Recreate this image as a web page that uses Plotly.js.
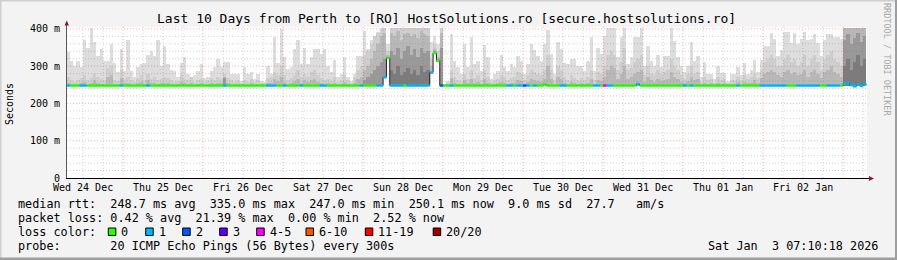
<!DOCTYPE html>
<html><head><meta charset="utf-8">
<script src="https://cdn.plot.ly/plotly-3.0.1.min.js"></script>
<style>html,body{margin:0;padding:0;background:#f3f3f3}#chart{width:897px;height:260px}</style>
</head><body><div id="chart"></div>
<script>
// ---- data: hourly bins starting 24 Dec 2025 07:00 ----
const rangeStart = '2025-12-24 07:10:18';
const rangeEnd = '2026-01-03 07:10:18';
const dayLabels = ['Wed 24 Dec','Thu 25 Dec','Fri 26 Dec','Sat 27 Dec','Sun 28 Dec','Mon 29 Dec','Tue 30 Dec','Wed 31 Dec','Thu 01 Jan','Fri 02 Jan'];
const yTickValues = [0,100,200,300,400];
const yTickLabels = ['0','100 m','200 m','300 m','400 m'];
const lossLabels = ['0','1','2','3','4-5','6-10','11-19','20/20'];
const lossColors = ['#26ff00','#00b8ff','#0059ff','#5e00ff','#ff00ff','#ff5500','#ff0000','#a10000'];

const smokeTop = [
337,315,301,315,297,369,349,403,364,328,346,315,315,360,308,284,346,288,369,288,272,297,306,308,331,340,328,369,301,355,306,290,288,270,308,324,279,270,277,288,306,268,270,288,299,319,299,310,
310,279,279,279,261,299,279,284,266,279,261,257,301,279,378,308,400,324,293,297,346,369,306,349,306,324,346,346,333,346,301,284,317,270,279,324,270,261,279,328,328,394,346,369,378,391,403,403,
360,403,403,403,403,403,403,403,403,403,403,403,403,364,380,360,403,253,261,385,315,297,279,360,297,378,306,315,288,358,324,266,279,288,331,297,288,306,297,328,315,279,306,360,342,328,315,360,
397,333,279,364,346,308,306,319,319,301,301,288,315,379,288,349,333,382,403,403,403,324,378,403,306,324,378,378,403,301,355,315,301,331,299,328,328,403,367,324,301,284,301,364,315,328,270,310,
279,279,266,301,281,281,261,279,279,297,277,308,279,290,317,284,317,353,353,388,373,328,342,391,391,361,388,360,373,391,369,373,387,361,328,369,387,387,379,378,373,403,403,403,403,403,403,403];
const smoke2 = [
270,262,258,262,268,275,262,268,280,270,265,262,295,300,262,260,290,265,270,262,258,268,275,262,280,265,270,262,265,270,268,262,258,260,275,265,262,270,258,262,265,258,262,268,262,270,265,278,
268,262,258,262,256,262,258,265,258,262,256,254,268,270,285,275,300,275,262,268,275,290,270,280,272,285,290,275,268,262,265,260,270,258,262,275,262,256,270,290,300,330,340,360,380,390,400,403,
340,403,403,403,403,403,403,403,403,403,403,403,403,320,360,340,403,252,256,290,270,262,258,280,265,290,268,275,262,290,270,258,262,265,275,270,262,268,270,285,278,262,275,290,285,280,275,290,
330,290,262,300,290,270,262,275,268,262,268,262,270,290,262,285,280,300,330,340,330,290,310,350,290,295,310,320,330,275,300,280,275,290,278,285,290,320,300,290,275,265,278,300,280,285,258,272,
262,265,256,270,262,265,256,262,262,272,262,275,265,270,280,268,290,310,320,330,320,300,300,320,330,310,320,300,310,330,300,320,330,310,290,320,330,340,320,310,300,403,403,403,403,403,403,403];
const smoke3 = [
255,252,250,252,256,258,252,255,262,256,253,252,270,275,252,250,268,254,256,252,250,255,258,252,262,254,256,252,254,256,255,252,250,252,258,254,252,256,250,252,254,250,252,255,252,256,254,272,
255,252,250,252,250,252,250,254,250,252,250,249,255,256,265,260,270,258,252,255,260,265,256,262,258,262,265,258,255,252,254,252,256,250,252,258,252,250,256,265,270,290,300,320,340,360,380,390,
330,390,380,395,370,385,390,380,385,375,395,385,380,300,345,325,390,250,251,268,256,252,250,262,254,265,255,258,252,265,256,250,252,254,258,256,252,255,256,262,260,252,258,265,262,260,258,265,
300,265,252,272,265,256,252,258,255,252,255,252,256,265,252,262,260,272,290,300,295,265,280,300,265,270,280,285,290,258,270,262,258,265,260,262,265,285,270,265,258,254,260,272,262,265,250,256,
252,254,250,256,252,254,250,252,252,258,252,258,254,256,262,256,268,280,285,290,285,275,272,285,290,280,285,275,280,290,272,285,290,280,268,285,290,300,285,280,272,403,403,403,403,403,403,403];
const smoke4 = [
246,246,246,246,246,246,246,246,246,246,246,246,246,246,246,246,246,246,246,246,246,246,246,246,246,246,246,246,246,246,246,246,246,246,246,246,246,246,246,246,246,246,246,246,246,246,246,268,
246,246,246,246,246,246,246,246,246,246,246,246,246,246,246,246,246,246,246,246,246,246,246,246,246,246,246,246,246,246,246,246,246,246,246,246,246,246,246,246,246,262,270,280,290,300,310,320,
325,340,330,350,320,340,355,330,345,325,350,335,340,285,340,318,350,246,246,246,246,246,246,246,246,246,246,246,246,246,246,246,246,246,246,246,246,246,246,246,246,246,246,246,246,246,246,246,
246,246,246,246,246,246,246,246,246,246,246,246,246,246,246,246,246,246,246,246,246,246,246,246,246,246,246,246,246,246,246,246,246,246,246,246,246,246,246,246,246,246,246,246,246,246,246,246,
246,246,246,246,246,246,246,246,246,246,246,246,246,246,246,246,246,246,246,246,246,246,246,246,246,246,246,246,246,246,246,246,246,246,246,246,246,246,246,246,246,370,385,360,375,390,365,380];
const smoke5 = [
246,246,246,246,246,246,246,246,246,246,246,246,246,246,246,246,246,246,246,246,246,246,246,246,246,246,246,246,246,246,246,246,246,246,246,246,246,246,246,246,246,246,246,246,246,246,246,246,
246,246,246,246,246,246,246,246,246,246,246,246,246,246,246,246,246,246,246,246,246,246,246,246,246,246,246,246,246,246,246,246,246,246,246,246,246,246,246,246,246,246,246,246,246,246,246,246,
246,290,280,300,275,285,295,280,290,275,300,285,290,246,246,246,246,246,246,246,246,246,246,246,246,246,246,246,246,246,246,246,246,246,246,246,246,246,246,246,246,246,246,246,246,246,246,246,
246,246,246,246,246,246,246,246,246,246,246,246,246,246,246,246,246,246,246,246,246,246,246,246,246,246,246,246,246,246,246,246,246,246,246,246,246,246,246,246,246,246,246,246,246,246,246,246,
246,246,246,246,246,246,246,246,246,246,246,246,246,246,246,246,246,246,246,246,246,246,246,246,246,246,246,246,246,246,246,246,246,246,246,246,246,246,246,246,246,300,320,290,310,330,300,320];
const smokeLow = [
246,246,246,246,246,246,246,246,246,246,246,246,246,246,246,246,246,246,246,246,246,246,246,246,246,246,246,246,246,246,246,246,246,246,246,246,246,246,246,246,246,246,246,246,246,246,246,246,
246,246,246,246,246,246,246,246,246,246,246,246,246,246,246,246,246,246,246,246,246,246,246,246,246,246,246,246,246,246,246,246,246,246,246,246,246,246,246,246,246,246,246,246,246,246,246,268,
318,246,246,246,246,246,246,246,246,246,246,246,246,280,332,312,246,246,246,246,246,246,246,246,246,246,246,246,246,246,246,246,246,246,246,246,246,246,246,246,246,246,246,246,246,246,246,246,
246,246,246,246,246,246,246,246,246,246,246,246,246,246,246,246,246,246,246,246,246,246,246,246,246,246,246,246,246,246,246,246,246,246,246,246,246,246,246,246,246,246,246,246,246,246,246,246,
246,246,246,246,246,246,246,246,246,246,246,246,246,246,246,246,246,246,246,246,246,246,246,246,246,246,246,246,246,246,246,246,246,246,246,246,246,246,246,246,246,246,246,246,246,246,246,246];
const medianRtt = [
248,248,248,248,248,248,248,248,248,248,248,248,248,248,248,248,248,248,248,248,248,248,248,248,248,248,248,248,248,248,248,248,248,248,248,248,248,248,248,248,248,248,248,248,248,248,248,248,
248,248,248,248,248,248,248,248,248,248,248,248,248,248,248,248,248,248,248,248,248,248,248,248,248,248,248,248,248,248,248,248,248,248,248,248,248,248,248,248,248,248,248,248,248,248,248,270,
322,248,248,248,248,248,248,248,248,248,248,248,248,283,335,315,248,248,248,248,248,248,248,248,248,248,248,248,248,248,248,248,248,248,248,248,248,248,248,248,248,248,248,248,248,248,248,251,
248,248,248,248,248,248,248,248,248,248,248,248,248,248,248,248,248,248,248,248,248,248,248,248,248,248,248,252,248,248,248,248,248,248,248,248,248,248,248,248,248,248,248,248,248,248,248,248,
248,248,248,248,248,248,248,248,248,248,248,248,248,248,248,248,248,248,248,248,248,248,248,248,248,248,248,248,248,248,248,248,248,248,248,248,248,248,248,248,248,253,255,249,246,250,247,251];
const lossCount = [
1,0,0,0,1,1,0,0,0,0,0,0,0,0,0,0,1,0,0,0,0,0,0,0,1,0,0,0,0,0,0,0,0,0,0,0,0,0,0,0,0,0,0,0,0,0,0,1,
0,0,0,0,0,0,0,0,0,0,0,0,1,1,1,0,0,1,0,0,0,0,1,0,0,0,0,0,1,1,0,0,0,0,0,0,0,0,0,0,1,0,0,0,0,1,1,1,
0,1,1,1,1,0,1,1,1,1,1,1,1,1,0,0,2,0,0,1,0,0,0,0,0,0,0,0,0,0,0,0,0,0,0,0,1,1,0,1,1,2,1,0,1,0,0,0,
0,0,0,0,1,1,0,0,0,0,0,0,0,0,1,1,0,4,1,1,0,0,0,0,0,0,0,1,0,0,0,0,0,0,0,0,0,0,0,0,0,1,0,1,0,0,0,0,
0,0,0,0,0,0,0,0,0,1,0,0,0,0,0,0,1,1,1,1,1,1,1,1,0,0,0,1,1,1,1,1,1,1,0,0,1,1,1,1,0,1,1,1,1,1,1,1];

// ---- helpers ----
const N = smokeTop.length;
function tStr(hourOffset, minutes){
  const d = new Date(Date.UTC(2025,11,24,7+hourOffset,minutes||0));
  return d.toISOString().slice(0,19).replace('T',' ');
}
function dayStr(dayOffset, hour){
  const d = new Date(Date.UTC(2025,11,24+dayOffset,hour,0));
  return d.toISOString().slice(0,19).replace('T',' ');
}
function bucket(l){ if(l<=3) return l; if(l<=5) return 4; if(l<=10) return 5; if(l<=19) return 6; return 7; }
const PL=67, PR=867, PT=27, PB=178;
const px = x => (x-PL)/(PR-PL);
const py = y => (PB-y)/(PB-PT);
const FONT = 'DejaVu Sans Mono, monospace';

const centers = smokeTop.map((_,k)=>tStr(k,30));
const traces = [];
const layers = [[smokeTop,'#dddddd'],[smoke2,'#cecece'],[smoke3,'#b8b8b8'],[smoke4,'#999999'],[smoke5,'#7c7c7c']];
layers.forEach(([arr,col])=>{
  traces.push({type:'bar', x:centers, base:smokeLow, y:arr.map((v,k)=>Math.max(0,v-smokeLow[k])),
    width:3600000, marker:{color:col, line:{width:0}}, hoverinfo:'skip', showlegend:false});
});
// dark median step line
const mx=[], my=[];
for(let k=0;k<N;k++){ mx.push(tStr(k,0)); my.push(medianRtt[k]); }
mx.push(tStr(N,0)); my.push(medianRtt[N-1]);
traces.push({type:'scatter', mode:'lines', x:mx, y:my, line:{shape:'hv', color:'#202020', width:1}, hoverinfo:'skip', showlegend:false});
// loss-coloured median segments
lossColors.forEach((col,b)=>{
  const xs=[], ys=[];
  for(let k=0;k<N;k++){ if(bucket(lossCount[k])===b){ xs.push(tStr(k,0),tStr(k+1,0),null); ys.push(medianRtt[k],medianRtt[k],null);} }
  if(xs.length) traces.push({type:'scatter', mode:'lines', x:xs, y:ys, line:{color:col, width:2.6}, hoverinfo:'skip', showlegend:false, connectgaps:false});
});

// grid as shapes drawn above the smoke
const shapes=[];
const gridGray='rgba(120,120,120,0.35)', gridRed='rgba(255,60,60,0.42)';
for(let d=0; d<=10; d++){
  for(let h=0; h<24; h+=6){
    const ts = dayStr(d,h);
    if(ts < rangeStart || ts > rangeEnd) continue;
    shapes.push({type:'line', layer:'above', xref:'x', yref:'paper', x0:ts, x1:ts, y0:0, y1:1,
      line:{color: h===0?gridRed:gridGray, width:1, dash:'1px,2px'}});
  }
}
for(let v=20; v<=400; v+=20){
  shapes.push({type:'line', layer:'above', xref:'paper', yref:'y', x0:0, x1:1, y0:v, y1:v,
    line:{color: v%100===0?gridRed:gridGray, width:1, dash:'1px,2px'}});
}
// axes lines and arrows
shapes.push({type:'line', layer:'above', xref:'paper', yref:'paper', x0:px(66.5), x1:px(66.5), y0:py(178), y1:py(23), line:{color:'#5a5a5a', width:1}});
shapes.push({type:'line', layer:'above', xref:'paper', yref:'paper', x0:px(66), x1:px(870), y0:py(178.5), y1:py(178.5), line:{color:'#000', width:1}});
shapes.push({type:'path', layer:'above', xref:'paper', yref:'paper',
  path:`M ${px(64.5)} ${py(25.5)} L ${px(69)} ${py(25.5)} L ${px(66.75)} ${py(20.5)} Z`, fillcolor:'#8e1c1c', line:{width:0}});
shapes.push({type:'path', layer:'above', xref:'paper', yref:'paper',
  path:`M ${px(869)} ${py(176)} L ${px(869)} ${py(181)} L ${px(874)} ${py(178.5)} Z`, fillcolor:'#8e1c1c', line:{width:0}});
// frame
shapes.push({type:'line', xref:'paper', yref:'paper', x0:px(0), x1:px(897), y0:py(0.75), y1:py(0.75), line:{color:'#cfcfcf', width:1.5}});
shapes.push({type:'line', xref:'paper', yref:'paper', x0:px(0.75), x1:px(0.75), y0:py(0), y1:py(260), line:{color:'#cfcfcf', width:1.5}});
shapes.push({type:'line', xref:'paper', yref:'paper', x0:px(0), x1:px(897), y0:py(258.75), y1:py(258.75), line:{color:'#9e9e9e', width:2.5}});
shapes.push({type:'line', xref:'paper', yref:'paper', x0:px(896), x1:px(896), y0:py(0), y1:py(260), line:{color:'#9e9e9e', width:2}});
// legend colour boxes
const boxX=[108.3,145.7,182.7,219.7,256.7,306,365.3,433.2];
const labX=[119.3,156.7,193.7,230.7,267.7,317,376,444.2];
const annotations=[];
lossColors.forEach((col,i)=>{
  shapes.push({type:'rect', xref:'paper', yref:'paper', x0:px(boxX[i]), x1:px(boxX[i]+7.5), y0:py(235.5), y1:py(228), fillcolor:col, line:{color:'#000', width:1}});
  annotations.push({xref:'paper', yref:'paper', x:px(labX[i]), y:py(232), xanchor:'left', yanchor:'middle', showarrow:false, text:lossLabels[i], font:{family:FONT, size:11.8, color:'#000'}});
});
function txt(x,y,t,opts){ annotations.push(Object.assign({xref:'paper', yref:'paper', x:px(x), y:py(y), xanchor:'left', yanchor:'middle', showarrow:false, text:t, font:{family:FONT, size:11.8, color:'#000'}}, opts||{})); }
txt(446.5,19,'Last 10 Days from Perth to [RO] HostSolutions.ro [secure.hostsolutions.ro]',{xanchor:'center', font:{family:FONT,size:13,color:'#000'}});
txt(10,104,'Seconds',{xanchor:'center', textangle:-90, font:{family:FONT,size:10,color:'#000'}});
txt(887,60,'RRDTOOL / TOBI OETIKER',{xanchor:'center', textangle:90, font:{family:FONT,size:8.5,color:'#a8a8a8'}});
txt(16,204,'median rtt:  248.7 ms avg  335.0 ms max  247.0 ms min  250.1 ms now  9.0 ms sd  27.7   am/s');
txt(16,218,'packet loss: 0.42 % avg  21.39 % max  0.00 % min  2.52 % now');
txt(16,232,'loss color:');
txt(16,246,'probe:       20 ICMP Echo Pings (56 Bytes) every 300s');
txt(880,246,'Sat Jan  3 07:10:18 2026',{xanchor:'right'});

const layout = {
  width:897, height:260, margin:{l:PL, r:897-PR, t:PT, b:260-PB, pad:0},
  paper_bgcolor:'#f3f3f3', plot_bgcolor:'#ffffff',
  barmode:'overlay', bargap:0, showlegend:false,
  xaxis:{type:'date', range:[rangeStart,rangeEnd], tickmode:'array',
    tickvals:dayLabels.map((_,d)=>dayStr(d,12)), ticktext:dayLabels,
    showgrid:false, zeroline:false, showline:false, ticks:'', ticklabelstandoff:2,
    tickfont:{family:FONT, size:10, color:'#000'}, fixedrange:true},
  yaxis:{range:[0,405], tickmode:'array', tickvals:yTickValues, ticktext:yTickLabels,
    showgrid:false, zeroline:false, showline:false, ticks:'', ticklabelstandoff:6,
    tickfont:{family:FONT, size:10, color:'#000'}, fixedrange:true},
  shapes:shapes, annotations:annotations
};
Plotly.newPlot('chart', traces, layout, {staticPlot:true, displayModeBar:false});
</script></body></html>
